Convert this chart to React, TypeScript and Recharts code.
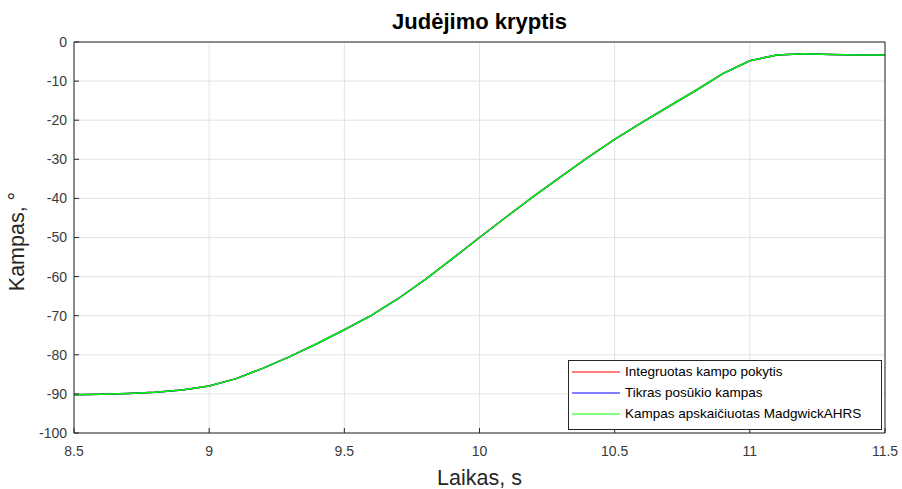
import { CartesianGrid, Legend, Line, LineChart, XAxis, YAxis } from "recharts"

// laikas, s
const laikas = [
  8.5, 8.6, 8.7, 8.8, 8.9, 9.0, 9.1, 9.2, 9.3, 9.4, 9.5, 9.6, 9.7, 9.8, 9.9, 10.0,
  10.1, 10.2, 10.3, 10.4, 10.5, 10.6, 10.7, 10.8, 10.9, 11.0, 11.1, 11.2, 11.3, 11.4, 11.5,
]

// kampas, laipsniais
const integruotas = [
  -90.2, -90.1, -89.9, -89.6, -89.0, -88.0, -86.1, -83.4, -80.4, -77.1, -73.6, -69.9, -65.6, -60.7, -55.4, -50.0,
  -44.7, -39.5, -34.5, -29.6, -24.9, -20.6, -16.5, -12.4, -8.1, -4.8, -3.3, -3.0, -3.2, -3.3, -3.3,
]
const tikras = [
  -90.2, -90.1, -89.9, -89.6, -89.0, -88.0, -86.1, -83.4, -80.4, -77.1, -73.6, -69.9, -65.6, -60.7, -55.4, -50.0,
  -44.7, -39.5, -34.5, -29.6, -24.9, -20.6, -16.5, -12.4, -8.1, -4.8, -3.3, -3.0, -3.2, -3.3, -3.3,
]
const madgwick = [
  -90.2, -90.1, -89.9, -89.6, -89.0, -88.0, -86.1, -83.4, -80.4, -77.1, -73.6, -69.9, -65.6, -60.7, -55.4, -50.0,
  -44.7, -39.5, -34.5, -29.6, -24.9, -20.6, -16.5, -12.4, -8.1, -4.8, -3.3, -3.0, -3.2, -3.3, -3.3,
]

const xTicks = [8.5, 9, 9.5, 10, 10.5, 11, 11.5]
const yTicks = [0, -10, -20, -30, -40, -50, -60, -70, -80, -90, -100]

const series = [
  { key: "integruotas", name: "Integruotas kampo pokytis", color: "#ff0000" },
  { key: "tikras", name: "Tikras posūkio kampas", color: "#0000ff" },
  { key: "madgwick", name: "Kampas apskaičiuotas MadgwickAHRS", color: "#00ff00" },
]

const data = laikas.map((t, i) => ({
  t,
  integruotas: integruotas[i],
  tikras: tikras[i],
  madgwick: madgwick[i],
}))

const font = "'Liberation Sans', Arial, Helvetica, sans-serif"
const axisColor = "#262626"
const tickStyle = { fill: "#3a3a3a", fontSize: 14, fontFamily: font }

function LegendBox() {
  return (
    <div
      style={{
        border: "1px solid #262626",
        background: "#fff",
        width: 314,
        height: 70,
        padding: "0 0 0 3px",
        boxSizing: "border-box",
        fontFamily: font,
        fontSize: 13.5,
        color: "#000",
      }}
    >
      {series.map((s) => (
        <div key={s.key} style={{ display: "flex", alignItems: "center", height: 21, marginTop: s.key === "integruotas" ? 0 : 0 }}>
          <svg width={50} height={4} style={{ marginRight: 3 }}>
            <line x1={0} x2={48} y1={2} y2={2} stroke={s.color} strokeWidth={1.2} />
          </svg>
          <span>{s.name}</span>
        </div>
      ))}
    </div>
  )
}

export default function App() {
  return (
    <div style={{ position: "absolute", left: 0, top: 0, width: 902, height: 489, background: "#fff" }}>
      <div
        style={{
          position: "absolute",
          left: 0,
          top: 9,
          width: 959,
          textAlign: "center",
          fontFamily: font,
          fontWeight: "bold",
          fontSize: 22,
          lineHeight: "25px",
          color: "#000",
        }}
      >
        Judėjimo kryptis
      </div>
      <LineChart width={902} height={489} data={data} margin={{ top: 42, right: 17, bottom: 0, left: 0 }}>
        <CartesianGrid stroke="#e3e3e3" strokeWidth={1} />
        <XAxis
          dataKey="t"
          type="number"
          domain={[8.5, 11.5]}
          ticks={xTicks}
          allowDataOverflow
          height={56}
          stroke={axisColor}
          tickSize={-5}
          tickMargin={18}
          tick={tickStyle}
          label={({ viewBox }: any) => (
            <text
              x={viewBox.x + viewBox.width / 2}
              y={viewBox.y + 52}
              textAnchor="middle"
              fontFamily={font}
              fontSize={21.5}
              fill="#262626"
            >
              Laikas, s
            </text>
          )}
        />
        <XAxis
          xAxisId="top"
          orientation="top"
          type="number"
          domain={[8.5, 11.5]}
          ticks={xTicks}
          allowDataOverflow
          mirror
          stroke={axisColor}
          tickSize={5}
          tick={false}
        />
        <YAxis
          type="number"
          domain={[-100, 0]}
          ticks={yTicks}
          allowDataOverflow
          width={74}
          stroke={axisColor}
          tickSize={-5}
          tickMargin={12}
          tick={tickStyle}
          label={({ viewBox }: any) => {
            const cx = 23.5
            const cy = viewBox.y + viewBox.height / 2 + 4
            return (
              <text
                x={cx}
                y={cy}
                transform={`rotate(-90, ${cx}, ${cy})`}
                textAnchor="middle"
                fontFamily={font}
                fontSize={21.5}
                fill="#262626"
              >
                Kampas, °
              </text>
            )
          }}
        />
        <YAxis
          yAxisId="right"
          orientation="right"
          type="number"
          domain={[-100, 0]}
          ticks={yTicks}
          allowDataOverflow
          mirror
          stroke={axisColor}
          tickSize={5}
          tick={false}
        />
        <Legend
          layout="horizontal"
          verticalAlign="middle"
          align="center"
          wrapperStyle={{ left: 568, top: 360, width: 314, height: 70 }}
          content={() => <LegendBox />}
        />
        {series.map((s) => (
          <Line
            key={s.key}
            dataKey={s.key}
            name={s.name}
            type="linear"
            stroke={s.color}
            strokeWidth={1.5}
            dot={false}
            activeDot={false}
            isAnimationActive={false}
          />
        ))}
      </LineChart>
    </div>
  )
}
